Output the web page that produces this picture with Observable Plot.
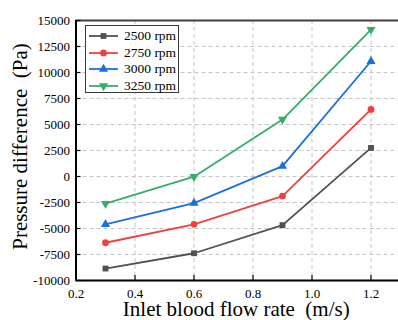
<!DOCTYPE html>
<html>
<head>
<meta charset="utf-8">
<script src="https://cdn.jsdelivr.net/npm/d3@7"></script>
<script src="https://cdn.jsdelivr.net/npm/@observablehq/plot@0.6"></script>
<style>
  body { margin: 0; background: #fff; }
  #wrap { position: relative; width: 398px; height: 320px; overflow: hidden; background: #fff; }
  #legend { position: absolute; left: 85px; top: 25px; width: 94px; height: 68px; border: 1.3px solid #3a3a3a; background: #fff;
            font-family: "Liberation Serif", "Times New Roman", serif; font-size: 13.5px; color: #000; box-sizing: border-box; }
  .row { position: absolute; left: 0; height: 16px; display: flex; align-items: center; }
  .row svg { display: block; }
  .row span { margin-left: 4px; line-height: 16px; }
  svg text { font-family: "Liberation Serif", "Times New Roman", serif; }
</style>
</head>
<body>
<div id="wrap"><div id="legend"></div></div>
<script>
// ---- data ----
const flowRate = [0.3, 0.6, 0.9, 1.2];
const rpm2500 = [-8850, -7380, -4680, 2750];
const rpm2750 = [-6370, -4600, -1880, 6450];
const rpm3000 = [-4600, -2560, 990, 11080];
const rpm3250 = [-2600, -20, 5480, 14130];
const seriesNames = ["2500 rpm", "2750 rpm", "3000 rpm", "3250 rpm"];
const xTicks = [0.2, 0.4, 0.6, 0.8, 1.0, 1.2];
const yTicks = [-10000, -7500, -5000, -2500, 0, 2500, 5000, 7500, 10000, 12500, 15000];
const xTitle = "Inlet blood flow rate\u00a0 (m/s)";
const yTitle = "Pressure difference\u00a0 (Pa)";

// ---- styles ----
const colors = ["#515151", "#F14040", "#1A6FDF", "#37AD6B"];
const symbols = ["square", "circle", "triangle", "triangle"];
const rotations = [0, 0, 0, 180];
const radii = [3.3, 3.4, 3.4, 3.4];
const font = "'Liberation Serif', 'Times New Roman', serif";

const allValues = [rpm2500, rpm2750, rpm3000, rpm3250];
const table = [];
allValues.forEach((vals, i) => vals.forEach((v, j) => table.push({series: seriesNames[i], x: flowRate[j], y: v})));

const marks = [
  Plot.gridX(xTicks.slice(1), {stroke: "#c4c4c4", strokeOpacity: 1, strokeWidth: 1, strokeDasharray: "4,3"}),
  Plot.gridY(yTicks.slice(1, -1), {stroke: "#c4c4c4", strokeOpacity: 1, strokeWidth: 1, strokeDasharray: "4,3"}),
  Plot.ruleY([15000], {stroke: "#404040", strokeWidth: 2}),
  Plot.ruleX([0.2], {stroke: "#000", strokeWidth: 2}),
  Plot.ruleY([-10000], {stroke: "#000", strokeWidth: 2}),
  Plot.axisY(yTicks, {anchor: "left", tickSize: -5, tickPadding: 11, tickFormat: d => String(d),
    fontSize: 13, fontFamily: font, fill: "#000", stroke: "#000", strokeWidth: 1.2, label: null}),
  Plot.axisX(xTicks, {anchor: "bottom", tickSize: -5, tickPadding: 13, tickFormat: d3.format(".1f"),
    fontSize: 13, fontFamily: font, fill: "#000", stroke: "#000", strokeWidth: 1.2, label: null}),
];
seriesNames.forEach((name, i) => {
  const d = table.filter(r => r.series === name);
  marks.push(Plot.line(d, {x: "x", y: "y", stroke: colors[i], strokeWidth: 1.8}));
  marks.push(Plot.dot(d, {x: "x", y: "y", fill: colors[i], stroke: "none", symbol: symbols[i], r: radii[i], rotate: rotations[i]}));
});
marks.push(Plot.text([xTitle], {text: d => d, frameAnchor: "bottom", lineAnchor: "bottom", dy: 35, dx: -2,
  fontSize: 21, fontFamily: font, fill: "#000"}));
marks.push(Plot.text([yTitle], {text: d => d, frameAnchor: "left", textAnchor: "middle", lineAnchor: "bottom", rotate: -90, dx: -49, dy: -4,
  fontSize: 21, fontFamily: font, fill: "#000"}));

const chart = Plot.plot({
  width: 398, height: 320,
  marginLeft: 75.5, marginRight: -2, marginTop: 20, marginBottom: 40,
  x: {domain: [0.2, 1.3]},
  y: {domain: [-10000, 15000]},
  style: {background: "#fff", overflow: "hidden", fontFamily: font},
  marks
});
document.getElementById("wrap").prepend(chart);

// ---- legend ----
const legend = document.getElementById("legend");
const symPath = {
  square: d3.symbol(d3.symbolSquare, Math.PI * 3.3 * 3.3)(),
  circle: d3.symbol(d3.symbolCircle, Math.PI * 3.4 * 3.4)(),
  triangle: d3.symbol(d3.symbolTriangle, Math.PI * 3.4 * 3.4)()
};
seriesNames.forEach((name, i) => {
  const row = document.createElement("div");
  row.className = "row";
  row.style.top = (2 + i * 16.5) + "px";
  row.innerHTML = `<svg width="34" height="16"><line x1="3" x2="32" y1="8" y2="8" stroke="${colors[i]}" stroke-width="1.8"/>` +
    `<path d="${symPath[symbols[i]]}" fill="${colors[i]}" transform="translate(17.5,8) rotate(${rotations[i]})"/></svg>` +
    `<span>${name}</span>`;
  legend.appendChild(row);
});
</script>
</body>
</html>
